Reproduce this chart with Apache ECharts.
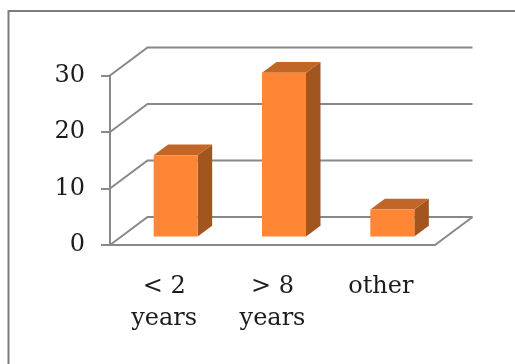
<!DOCTYPE html>
<html>
<head>
<meta charset="utf-8">
<style>html,body{margin:0;padding:0;background:#fff}#chart{width:515px;height:364px}</style>
<script src="https://cdn.jsdelivr.net/npm/echarts@6/dist/echarts.min.js"></script>
</head>
<body>
<div id="chart"></div>
<script>
const categories = ['< 2\nyears', '> 8\nyears', 'other'];
const counts = [14.4, 29, 4.8];
const yTicks = [0, 10, 20, 30];

// Oblique projection of the chart box
const wallDepth = { x: 37.5, y: 28 };
const barDepth = { x: 14.5, y: 10.7 };
const barShift = { x: 11.5, y: 8.5 };
const barWidth = 44;

const lineGrey = '#888888';
const textColor = '#1c1c1c';
const fontFamily = '"DejaVu Serif", serif';

function renderWallLine(params, api) {
  const [x, y] = api.coord([0, api.value(0)]);
  const box = params.coordSys;
  const right = box.x + box.width;
  const style = { stroke: lineGrey, lineWidth: 2, fill: null };
  const children = [{
    type: 'polyline',
    shape: { points: [[box.x, y], [box.x + wallDepth.x, y - wallDepth.y], [right + wallDepth.x, y - wallDepth.y]] },
    style
  }];
  if (api.value(0) === 0) {
    children.push({
      type: 'line',
      shape: { x1: right, y1: y, x2: right + wallDepth.x, y2: y - wallDepth.y },
      style
    });
  }
  return { type: 'group', children };
}

function renderBar(params, api) {
  const top = api.coord([api.value(0), api.value(1)]);
  const base = api.coord([api.value(0), 0]);
  const l = top[0] + barShift.x - barWidth / 2;
  const r = l + barWidth;
  const t = top[1] - barShift.y;
  const b = base[1] - barShift.y;
  const dx = barDepth.x;
  const dy = barDepth.y;
  return {
    type: 'group',
    children: [
      { type: 'polygon', shape: { points: [[r, t], [r + dx, t - dy], [r + dx, b - dy], [r, b]] }, style: { fill: '#A35520' } },
      { type: 'polygon', shape: { points: [[l, t], [l + dx, t - dy], [r + dx, t - dy], [r, t]] }, style: { fill: '#C26627' } },
      { type: 'rect', shape: { x: l, y: t, width: barWidth, height: b - t }, style: { fill: '#FF8635' } }
    ]
  };
}

const chart = echarts.init(document.getElementById('chart'), null, { renderer: 'canvas' });
chart.setOption({
  animation: false,
  backgroundColor: '#ffffff',
  grid: { left: 110, right: 80, top: 75.5, bottom: 119 },
  xAxis: {
    type: 'category',
    data: categories,
    axisLine: { lineStyle: { color: lineGrey, width: 2 } },
    axisTick: { length: 9, lineStyle: { color: lineGrey, width: 2 } },
    axisLabel: { color: textColor, fontFamily, fontSize: 24, lineHeight: 32, margin: 26, interval: 0 }
  },
  yAxis: {
    type: 'value',
    min: 0,
    max: 30,
    interval: 10,
    splitLine: { show: false },
    axisLine: { show: true, lineStyle: { color: lineGrey, width: 2 } },
    axisTick: { show: true, length: 9, lineStyle: { color: lineGrey, width: 2 } },
    axisLabel: { color: textColor, fontFamily, fontSize: 24, margin: 25 }
  },
  // Frame around the plot, open on the right and at the bottom
  graphic: [{
    type: 'polyline',
    silent: true,
    shape: { points: [[8.5, 364], [8.5, 11], [515, 11]] },
    style: { stroke: '#7c7c7c', lineWidth: 2, fill: null }
  }],
  series: [
    {
      type: 'custom',
      coordinateSystem: 'cartesian2d',
      clip: false,
      z: 1,
      encode: { y: 0 },
      data: yTicks.map(v => [v]),
      renderItem: renderWallLine
    },
    {
      type: 'custom',
      coordinateSystem: 'cartesian2d',
      clip: false,
      z: 3,
      encode: { x: 0, y: 1 },
      data: counts.map((v, i) => [i, v]),
      renderItem: renderBar
    }
  ]
});
</script>
</body>
</html>
